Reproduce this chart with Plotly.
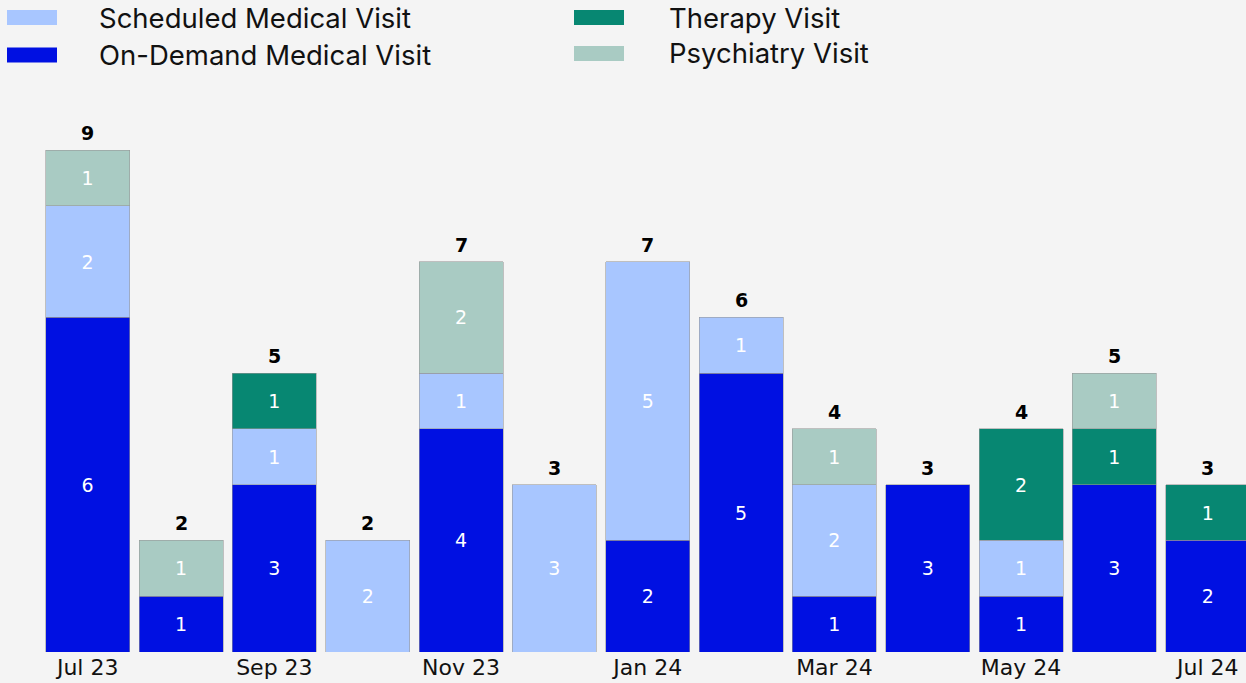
import plotly.graph_objects as go

months = ["Jul 23", "Aug 23", "Sep 23", "Oct 23", "Nov 23", "Dec 23", "Jan 24",
          "Feb 24", "Mar 24", "Apr 24", "May 24", "Jun 24", "Jul 24"]
tick_labels = ["Jul 23", "Sep 23", "Nov 23", "Jan 24", "Mar 24", "May 24", "Jul 24"]

on_demand = [6, 1, 3, 0, 4, 0, 2, 5, 1, 3, 1, 3, 2]
scheduled = [2, 0, 1, 2, 1, 3, 5, 1, 2, 0, 1, 0, 0]
therapy = [0, 0, 1, 0, 0, 0, 0, 0, 0, 0, 2, 1, 1]
psychiatry = [1, 1, 0, 0, 2, 0, 0, 0, 1, 0, 0, 1, 0]

series = [
    ("On-Demand Medical Visit", on_demand, "#0010e2"),
    ("Scheduled Medical Visit", scheduled, "#a8c6ff"),
    ("Therapy Visit", therapy, "#078772"),
    ("Psychiatry Visit", psychiatry, "#a9cbc3"),
]
totals = [a + b + c + d for a, b, c, d in zip(on_demand, scheduled, therapy, psychiatry)]

fig = go.Figure()
for name, vals, color in series:
    v = [x if x > 0 else None for x in vals]
    fig.add_trace(go.Bar(
        x=months, y=v, name=name,
        marker=dict(color=color, line=dict(color="rgba(150,150,150,0.7)", width=0.8)),
        text=[str(x) if x else "" for x in v],
        textposition="inside", insidetextanchor="middle", textangle=0,
        textfont=dict(family="DejaVu Sans", size=19, color="white"),
        showlegend=False, hoverinfo="skip",
    ))

for m, t in zip(months, totals):
    fig.add_annotation(x=m, y=t, text=f"<b>{t}</b>", showarrow=False,
                       xanchor="center", yanchor="bottom", yshift=4,
                       font=dict(family="DejaVu Sans", size=19, color="black"))

# manual legend
legend_items = [
    ("Scheduled Medical Visit", "#a8c6ff", 7, 57, 97, 17.5),
    ("On-Demand Medical Visit", "#0010e2", 7, 57, 97, 55),
    ("Therapy Visit", "#078772", 574, 624, 667, 17.5),
    ("Psychiatry Visit", "#a9cbc3", 574, 624, 667, 53.5),
]
W, H = 1246, 683
L, R, T, B = 41, 0, 100, 31
pw, ph = W - L - R, H - T - B
def px_x(p):
    return (p - L) / pw
def px_y(p):
    return (H - B - p) / ph

for label, color, x0, x1, tx, cy in legend_items:
    fig.add_shape(type="rect", xref="paper", yref="paper",
                  x0=px_x(x0), x1=px_x(x1), y0=px_y(cy + 7.5), y1=px_y(cy - 7.5),
                  fillcolor=color, line=dict(width=0), layer="above")
    fig.add_annotation(xref="paper", yref="paper", x=px_x(tx), y=px_y(cy),
                       text=label, showarrow=False, xanchor="left", yanchor="middle",
                       font=dict(family="Inter", size=27.5, color="#111111"))

fig.update_layout(
    width=W, height=H,
    barmode="stack", bargap=0.1,
    paper_bgcolor="#f4f4f4", plot_bgcolor="#f4f4f4",
    margin=dict(l=L, r=R, t=T, b=B, autoexpand=False),
    xaxis=dict(type="category", tickvals=months[::2], ticktext=tick_labels,
               range=[-0.5, 12.41], showgrid=False, zeroline=False, showline=False,
               ticks="", tickfont=dict(family="DejaVu Sans", size=22, color="#111111"),
               automargin=False, fixedrange=True),
    yaxis=dict(range=[0, 9.9], showgrid=False, zeroline=False, showline=False,
               showticklabels=False, ticks="", automargin=False, fixedrange=True),
    showlegend=False,
)

fig.write_html("out.html", config={"displayModeBar": False},
               post_script="document.body.style.margin='0';document.body.style.padding='0';document.body.style.overflow='hidden';document.body.style.background='#f4f4f4';")
